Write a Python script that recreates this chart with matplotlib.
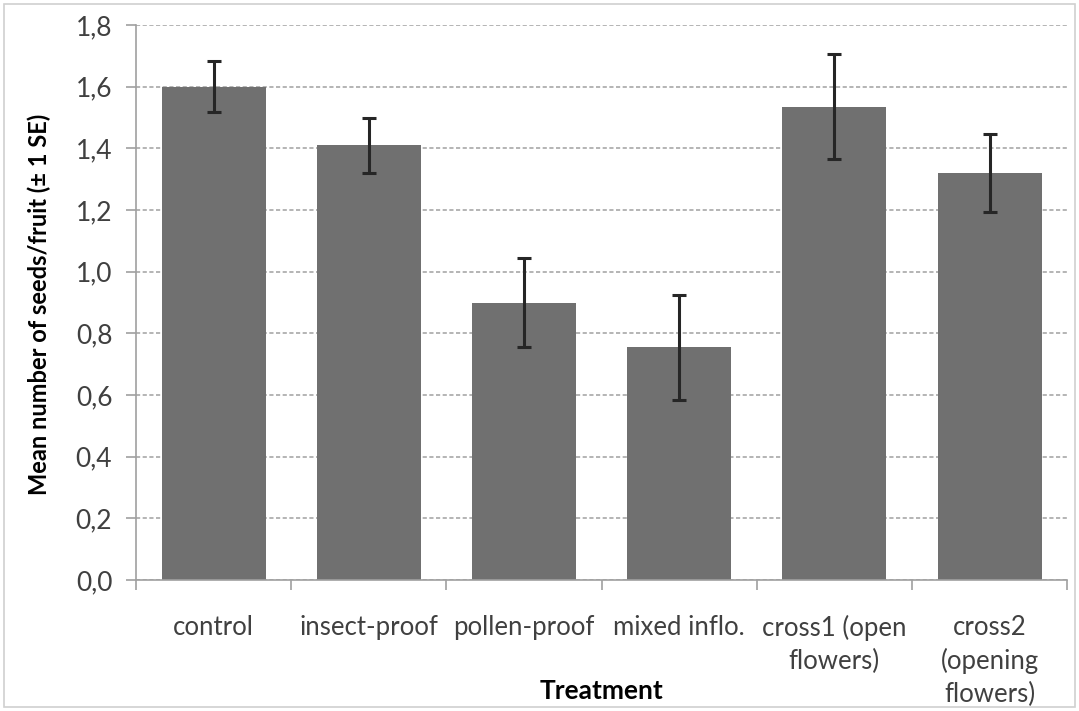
import matplotlib
matplotlib.use('Agg')
import numpy as np
from matplotlib import pyplot as plt
from matplotlib.patches import Rectangle

# data
treatments = ['control', 'insect-proof', 'pollen-proof', 'mixed inflo.',
              'cross1 (open\nflowers)', 'cross2\n(opening\nflowers)']
mean_seeds = [1.60, 1.41, 0.90, 0.755, 1.535, 1.32]
se_seeds = [0.083, 0.089, 0.145, 0.17, 0.171, 0.125]
y_ticks = [0.0, 0.2, 0.4, 0.6, 0.8, 1.0, 1.2, 1.4, 1.6, 1.8]
y_tick_labels = ['0,0', '0,2', '0,4', '0,6', '0,8', '1,0', '1,2', '1,4', '1,6', '1,8']

plt.rcParams['font.family'] = ['Lato', 'DejaVu Sans']

fig = plt.figure(figsize=(10.79, 7.11), dpi=100)
ax = fig.add_axes([0.126, 0.184, 0.863, 0.781])

x = np.arange(len(treatments))
ax.bar(x, mean_seeds, width=0.67, color='#707070', zorder=2)
ax.errorbar(x, mean_seeds, yerr=se_seeds, fmt='none', ecolor='#262626',
            elinewidth=2.2, capsize=5, capthick=2.2, zorder=3)

ax.set_xlim(-0.5, len(treatments) - 0.5)
ax.set_ylim(0, 1.8)
ax.set_yticks(y_ticks)
ax.set_yticklabels(y_tick_labels, fontsize=19, color='#404040')
ax.yaxis.grid(True, color='#a8a8a8', linestyle=(0, (2.5, 1.5)), linewidth=1.2, zorder=0)

# category ticks sit between the bars
ax.set_xticks(np.arange(len(treatments) + 1) - 0.5, minor=False)
ax.set_xticklabels([])
ax.set_xticks(x, minor=True)
ax.set_xticklabels(treatments, minor=True, fontsize=18.5, color='#404040', linespacing=1.38)
ax.tick_params(axis='x', which='minor', length=0, pad=25)
ax.tick_params(axis='x', which='major', length=7, color='#a0a0a0', width=1.2)
ax.tick_params(axis='y', length=7, color='#a0a0a0', width=1.2, pad=10)

for side in ['top', 'right']:
    ax.spines[side].set_visible(False)
for side in ['left', 'bottom']:
    ax.spines[side].set_color('#a0a0a0')
    ax.spines[side].set_linewidth(1.2)

ax.set_xlabel('Treatment', fontsize=19, fontweight='bold', labelpad=-20, x=0.5)
ax.set_ylabel('Mean number of seeds/fruit (± 1 SE)', fontsize=17, fontweight='bold',
              labelpad=18, y=0.497)

# thin frame around the whole picture
fig.patches.append(Rectangle((0.004, 0.006), 0.992, 0.988, transform=fig.transFigure,
                             fill=False, edgecolor='#d0d0d0', linewidth=1.2))

fig.savefig('out.png', dpi=100)
